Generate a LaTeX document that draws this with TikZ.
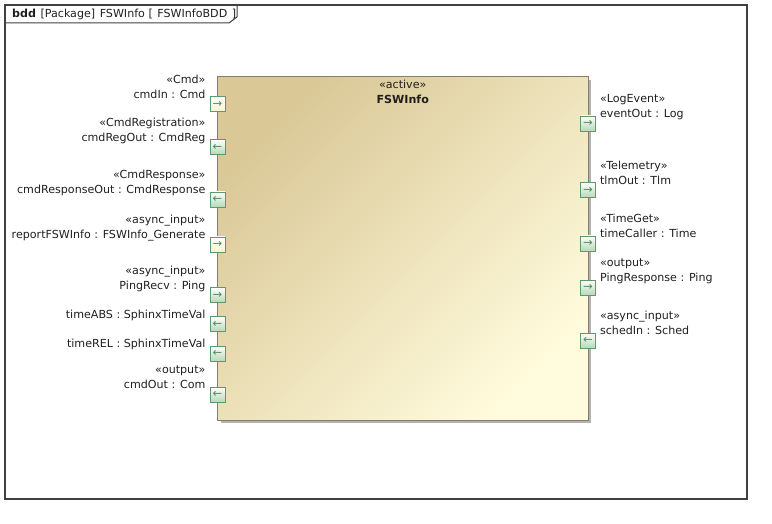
\documentclass[tikz,border=0pt]{standalone}
\usepackage{fontspec}
\setmainfont{DejaVu Sans}
\usepackage{xcolor}
\usepackage{tikz}
\usetikzlibrary{positioning,shadows}

\definecolor{blocktan}{HTML}{DAC897}
\definecolor{blockcream}{HTML}{FFFBDC}
\definecolor{blockedge}{HTML}{857E6C}
\definecolor{portedge}{HTML}{5E9B6B}
\definecolor{portfill}{HTML}{B6D9B8}
\definecolor{portcream}{HTML}{F4F4CF}
\definecolor{framegray}{HTML}{404040}

\begin{document}
\begin{tikzpicture}[x=1pt, y=-1pt,
  every node/.style={font=\fontsize{11.1}{15}\selectfont, inner sep=0pt, text=black!88},
  block/.style={draw=blockedge, line width=1pt, minimum width=370.5pt, minimum height=343pt,
                top color=blocktan, bottom color=blockcream, shading angle=45,
                drop shadow={shadow xshift=3pt, shadow yshift=-3pt, fill=black!30, opacity=1}},
  port/.style={draw=portedge, line width=0.8pt, minimum size=15pt, top color=white, bottom color=portfill,
               text=portedge!90!black, font=\fontsize{11.5}{11.5}\selectfont},
  portpale/.style={port, bottom color=portcream},
  namel/.style={anchor=base east, yshift=-2pt},
  sterl/.style={anchor=base east},
  namer/.style={anchor=base west, yshift=-2pt},
  sterr/.style={anchor=base west}]

\useasboundingbox (0,0) rectangle (772,524);

% diagram frame
\draw[framegray, line width=1.2pt] (5,5) rectangle (747,499);
\node (tab) [anchor=base west] at (12,17.5) {\textbf{bdd} \hspace{1pt}[Package] \hspace{1pt}FSWInfo [ \hspace{1pt}FSWInfoBDD \hspace{1pt}]};
\draw[framegray, line width=1pt] (5,23) -- (229,23) -- (237,17) -- (237,5);

% block
\node (fsw) [block] at (402.75,248.5) {};
\node (fswname) [below=3pt of fsw.north, align=center] {«active»\\\textbf{FSWInfo}};

% left ports
\node (cmdIn) [portpale] at (217.5,104) {→};
\node (cmdInL) [left=4pt of cmdIn.north west, namel] {cmdIn : Cmd};
\node [above=15pt of cmdInL.base east, sterl] {«Cmd»};

\node (cmdRegOut) [port] at (217.5,147) {←};
\node (cmdRegOutL) [left=4pt of cmdRegOut.north west, namel] {cmdRegOut : CmdReg};
\node [above=15pt of cmdRegOutL.base east, sterl] {«CmdRegistration»};

\node (cmdResponseOut) [port] at (217.5,199.5) {←};
\node (cmdResponseOutL) [left=4pt of cmdResponseOut.north west, namel] {cmdResponseOut : CmdResponse};
\node [above=15pt of cmdResponseOutL.base east, sterl] {«CmdResponse»};

\node (reportFSWInfo) [portpale] at (217.5,244.5) {→};
\node (reportFSWInfoL) [left=4pt of reportFSWInfo.north west, namel] {reportFSWInfo : FSWInfo\_Generate};
\node [above=15pt of reportFSWInfoL.base east, sterl] {«async\_input»};

\node (pingRecv) [port] at (217.5,295) {→};
\node (pingRecvL) [left=4pt of pingRecv.north west, namel] {PingRecv : Ping};
\node [above=15pt of pingRecvL.base east, sterl] {«async\_input»};

\node (timeABS) [port] at (217.5,324) {←};
\node (timeABSL) [left=4pt of timeABS.north west, namel] {timeABS : SphinxTimeVal};

\node (timeREL) [port] at (217.5,353.5) {←};
\node (timeRELL) [left=4pt of timeREL.north west, namel] {timeREL : SphinxTimeVal};

\node (cmdOut) [port] at (217.5,394.5) {←};
\node (cmdOutL) [left=4pt of cmdOut.north west, namel] {cmdOut : Com};
\node [above=15pt of cmdOutL.base east, sterl] {«output»};

% right ports
\node (eventOut) [port] at (588,123.5) {→};
\node (eventOutL) [right=4pt of eventOut.north east, namer] {eventOut : Log};
\node [above=15pt of eventOutL.base west, sterr] {«LogEvent»};

\node (tlmOut) [port] at (588,190) {→};
\node (tlmOutL) [right=4pt of tlmOut.north east, namer] {tlmOut : Tlm};
\node [above=15pt of tlmOutL.base west, sterr] {«Telemetry»};

\node (timeCaller) [port] at (588,243.5) {→};
\node (timeCallerL) [right=4pt of timeCaller.north east, namer] {timeCaller : Time};
\node [above=15pt of timeCallerL.base west, sterr] {«TimeGet»};

\node (pingResponse) [port] at (588,287.5) {→};
\node (pingResponseL) [right=4pt of pingResponse.north east, namer] {PingResponse : Ping};
\node [above=15pt of pingResponseL.base west, sterr] {«output»};

\node (schedIn) [port] at (588,340.5) {←};
\node (schedInL) [right=4pt of schedIn.north east, namer] {schedIn : Sched};
\node [above=15pt of schedInL.base west, sterr] {«async\_input»};

\end{tikzpicture}
\end{document}
